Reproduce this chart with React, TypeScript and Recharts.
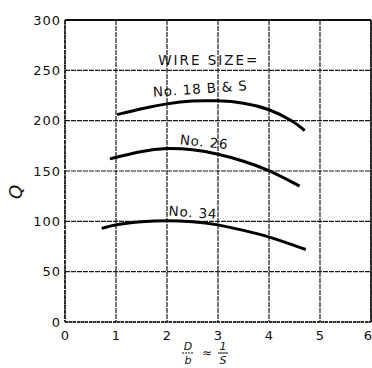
import React from "react";
import {
  LineChart,
  Line,
  XAxis,
  YAxis,
  CartesianGrid,
  ReferenceLine,
  ReferenceDot,
} from "recharts";

const xTicks = [0, 1, 2, 3, 4, 5, 6];
const yTicks = [0, 50, 100, 150, 200, 250, 300];

const no18X = [1.02, 1.5, 2, 2.5, 3, 3.5, 4, 4.5, 4.7];
const no18Q = [206, 212, 217, 220, 220, 218, 212, 199, 190];

const no26X = [0.88, 1.5, 2, 2.5, 3, 3.5, 4, 4.6];
const no26Q = [162, 170, 173, 171.5, 167, 160, 151, 135];

const no34X = [0.72, 1, 1.5, 2, 2.5, 3, 3.5, 4, 4.72];
const no34Q = [93, 97, 100, 101, 100, 97, 91, 85, 72];

const labelTexts = ["WIRE SIZE=", "No. 18 B & S", "No. 26", "No. 34"];
const labelX = [2.82, 2.65, 2.73, 2.51];
const labelQ = [260, 232, 179, 109];
const labelAngle = [0, -4, 6, 4];
const labelSpacing = [2, 0.8, 0.8, 0.8];

const toRows = (xs: number[], qs: number[]) => xs.map((x, i) => ({ x, q: qs[i] }));

const FONT = "DejaVu Sans, sans-serif";

const makeAnnot = (text: string, angle: number, spacing: number) => (props: any) => {
  const vb = props.viewBox || {};
  const cx = (vb.x || 0) + (vb.width || 0) / 2;
  const cy = (vb.y || 0) + (vb.height || 0) / 2;
  return (
    <text
      x={cx}
      y={cy}
      textAnchor="middle"
      dominantBaseline="central"
      fontFamily={FONT}
      fontSize={13.5}
      letterSpacing={spacing}
      fill="#111"
      transform={`rotate(${angle} ${cx} ${cy})`}
    >
      {text}
    </text>
  );
};

const YLabel = (props: any) => {
  const vb = props.viewBox || {};
  const x = (vb.x || 0) + 15;
  const y = (vb.y || 0) + (vb.height || 0) / 2 + 21;
  return (
    <text
      x={x}
      y={y}
      textAnchor="middle"
      dominantBaseline="central"
      fontFamily={FONT}
      fontStyle="italic"
      fontSize={18}
      fill="#111"
      transform={`rotate(-90 ${x} ${y})`}
    >
      Q
    </text>
  );
};

const XLabel = (props: any) => {
  const vb = props.viewBox || {};
  const bx = (vb.x || 0) + 123;
  const by = (vb.y || 0) + 31;
  return (
    <g fontFamily={FONT} fontStyle="italic" fill="#111" fontSize={11}>
      <text x={bx} y={by - 3} textAnchor="middle">D</text>
      <line x1={bx - 6} x2={bx + 6} y1={by} y2={by} stroke="#111" strokeWidth={1} strokeDasharray="2 1" />
      <text x={bx} y={by + 11} textAnchor="middle">b</text>
      <text x={bx + 19} y={by + 4} textAnchor="middle" fontStyle="normal" fontSize={12}>≈</text>
      <text x={bx + 35} y={by - 3} textAnchor="middle">1</text>
      <line x1={bx + 30} x2={bx + 40} y1={by} y2={by} stroke="#111" strokeWidth={1} />
      <text x={bx + 35} y={by + 11} textAnchor="middle">S</text>
    </g>
  );
};

const XTick = (props: any) => {
  const { x, y, payload } = props;
  const last = payload.value === 6;
  return (
    <text
      x={last ? x + 1 : x}
      y={y}
      dy="0.71em"
      textAnchor={last ? "end" : "middle"}
      fontFamily={FONT}
      fontSize={13}
      fill="#111"
    >
      {payload.value}
    </text>
  );
};

export default function App() {
  const tickStyle = { fontFamily: FONT, fontSize: 13, fill: "#111", letterSpacing: 1 };
  return (
    <div style={{ position: "absolute", left: 0, top: 0, background: "#fff" }}>
      <LineChart width={372} height={368} margin={{ top: 20, right: 1, bottom: 0, left: 0 }}>
        <CartesianGrid stroke="#1a1a1a" strokeDasharray="5 1" strokeWidth={1.2} />
        <XAxis
          type="number"
          dataKey="x"
          domain={[0, 6]}
          ticks={xTicks}
          height={46}
          tickSize={0}
          tickMargin={9}
          tick={<XTick />}
          axisLine={{ stroke: "#111", strokeWidth: 1.5, strokeDasharray: "3 1" }}
          interval={0}
          allowDataOverflow
          label={<XLabel />}
        />
        <YAxis
          type="number"
          dataKey="q"
          domain={[0, 300]}
          ticks={yTicks}
          width={65}
          tickSize={0}
          tickMargin={4}
          tick={tickStyle}
          axisLine={{ stroke: "#111", strokeWidth: 1.5, strokeDasharray: "4 1" }}
          interval={0}
          label={<YLabel />}
        />
        <ReferenceLine y={300} stroke="#111" strokeWidth={2} />
        <ReferenceLine x={6} stroke="#111" strokeWidth={1.5} />
        <Line data={toRows(no18X, no18Q)} dataKey="q" type="basis" stroke="#000" strokeWidth={3} dot={false} isAnimationActive={false} />
        <Line data={toRows(no26X, no26Q)} dataKey="q" type="basis" stroke="#000" strokeWidth={3} dot={false} isAnimationActive={false} />
        <Line data={toRows(no34X, no34Q)} dataKey="q" type="basis" stroke="#000" strokeWidth={3} dot={false} isAnimationActive={false} />
        {labelTexts.map((t, i) => (
          <ReferenceDot
            key={t}
            x={labelX[i]}
            y={labelQ[i]}
            r={0}
            fill="none"
            stroke="none"
            label={makeAnnot(t, labelAngle[i], labelSpacing[i])}
          />
        ))}
      </LineChart>
    </div>
  );
}
